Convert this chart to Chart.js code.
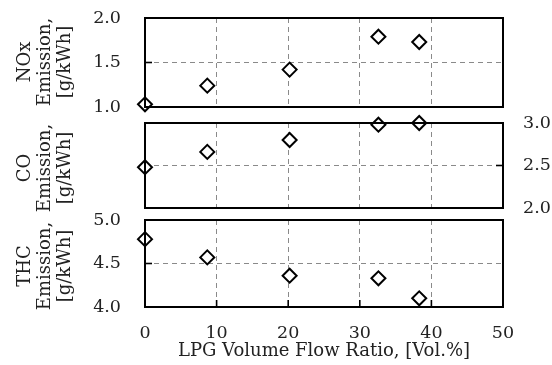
<!DOCTYPE html>
<html lang="en">
<head>
    <meta charset="UTF-8">
    <title>LPG Volume Flow Ratio vs Emissions</title>
    <script src="https://cdn.jsdelivr.net/npm/chart.js"></script>
    <style>
        body { margin: 0; background: #fff; }
        #wrap { position: relative; width: 552px; height: 365px; overflow: hidden; }
        #wrap canvas { position: absolute; left: 0; }
        .ytitle {
            position: absolute;
            width: 120px;
            text-align: center;
            font-family: "DejaVu Serif", serif;
            font-size: 18px;
            line-height: 20px;
            color: #222;
            transform: translate(-50%, -50%) rotate(-90deg);
            white-space: nowrap;
        }
    </style>
</head>
<body>
    <div id="wrap">
        <canvas id="noxChart"></canvas>
        <canvas id="coChart"></canvas>
        <canvas id="thcChart"></canvas>
        <div class="ytitle" style="left:44px; top:62px;">NOx<br>Emission,<br>[g/kWh]</div>
        <div class="ytitle" style="left:44px; top:168px;">CO<br>Emission,<br>[g/kWh]</div>
        <div class="ytitle" style="left:44px; top:266px;">THC<br>Emission,<br>[g/kWh]</div>
    </div>

    <script>
        // data
        const lpgRatio = [0, 8.7, 20.2, 32.6, 38.3];
        const noxValues = [1.03, 1.24, 1.42, 1.79, 1.73];
        const coValues = [2.48, 2.66, 2.80, 2.98, 3.00];
        const thcValues = [4.78, 4.57, 4.36, 4.33, 4.10];

        const xTicks = [0, 10, 20, 30, 40, 50];
        const noxTicks = [1.0, 1.5, 2.0];
        const coTicks = [2.0, 2.5, 3.0];
        const thcTicks = [4.0, 4.5, 5.0];

        const AREA_LEFT = 145;
        const AREA_RIGHT = 503;
        const FONT = { family: '"DejaVu Serif", serif', size: 17.5 };
        const TITLE_FONT = { family: '"DejaVu Serif", serif', size: 18 };
        const TEXT = '#222';

        function toPoints(ys) {
            return lpgRatio.map((x, i) => ({ x: x, y: ys[i] }));
        }

        function setTicks(list) {
            return function(scale) {
                scale.ticks = list.map(v => ({ value: v }));
            };
        }

        function zeroPadding(scale) {
            scale.paddingTop = 0;
            scale.paddingBottom = 0;
            scale.paddingLeft = 0;
            scale.paddingRight = 0;
        }

        // frame around the plot area plus short inward tick marks
        const framePlugin = {
            id: 'frame',
            afterDatasetsDraw(chart) {
                const a = chart.chartArea;
                const ctx = chart.ctx;
                const opts = chart.options.plugins.frame || {};
                ctx.save();
                ctx.strokeStyle = '#000';
                ctx.lineWidth = 1.6;
                if (opts.yTick !== undefined) {
                    const py = chart.scales.y.getPixelForValue(opts.yTick);
                    ctx.beginPath();
                    if (opts.right) {
                        ctx.moveTo(a.right, py); ctx.lineTo(a.right - 7, py);
                    } else {
                        ctx.moveTo(a.left, py); ctx.lineTo(a.left + 7, py);
                    }
                    ctx.stroke();
                }
                if (opts.xTicks) {
                    opts.xTicks.forEach(v => {
                        const px = chart.scales.x.getPixelForValue(v);
                        ctx.beginPath();
                        ctx.moveTo(px, a.bottom); ctx.lineTo(px, a.bottom - 7);
                        ctx.stroke();
                    });
                }
                ctx.lineWidth = 2;
                ctx.strokeRect(a.left, a.top, a.right - a.left, a.bottom - a.top);
                ctx.restore();
            }
        };

        function makeChart(id, top, height, values, yTicks, cfg) {
            const canvas = document.getElementById(id);
            canvas.style.top = top + 'px';
            canvas.style.width = '552px';
            canvas.style.height = height + 'px';
            canvas.width = 552;
            canvas.height = height;

            const yAxis = {
                type: 'linear',
                position: cfg.right ? 'right' : 'left',
                min: yTicks[0],
                max: yTicks[yTicks.length - 1],
                afterBuildTicks: setTicks(yTicks),
                afterFit: function(scale) {
                    scale.width = cfg.right ? 552 - AREA_RIGHT : AREA_LEFT;
                    zeroPadding(scale);
                },
                grid: { color: '#8a8a8a', lineWidth: 1, drawTicks: false },
                border: { display: false, dash: [5, 4] },
                ticks: {
                    color: TEXT,
                    font: FONT,
                    padding: cfg.right ? 20 : 24,
                    callback: v => Number(v).toFixed(1)
                }
            };

            const xAxis = {
                type: 'linear',
                min: 0,
                max: 50,
                afterBuildTicks: setTicks(xTicks),
                afterFit: function(scale) {
                    scale.height = cfg.xHeight;
                    zeroPadding(scale);
                },
                grid: { color: '#8a8a8a', lineWidth: 1, drawTicks: false },
                border: { display: false, dash: [5, 4] },
                ticks: {
                    display: cfg.showX,
                    color: TEXT,
                    font: FONT,
                    padding: 16,
                    maxRotation: 0,
                    callback: v => String(v)
                },
                title: {
                    display: cfg.showX,
                    text: 'LPG Volume Flow Ratio, [Vol.%]',
                    color: TEXT,
                    font: TITLE_FONT,
                    padding: { top: 0, bottom: 3 }
                }
            };

            return new Chart(canvas.getContext('2d'), {
                type: 'scatter',
                data: {
                    datasets: [{
                        data: toPoints(values),
                        pointStyle: 'rectRot',
                        pointRadius: 7,
                        pointHoverRadius: 7,
                        pointBackgroundColor: '#fff',
                        pointBorderColor: '#000',
                        pointBorderWidth: 2,
                        clip: false
                    }]
                },
                options: {
                    responsive: false,
                    animation: false,
                    layout: {
                        autoPadding: false,
                        padding: {
                            left: cfg.right ? AREA_LEFT : 0,
                            right: cfg.right ? 0 : 552 - AREA_RIGHT,
                            top: cfg.padTop,
                            bottom: cfg.padBottom
                        }
                    },
                    plugins: {
                        legend: { display: false },
                        tooltip: { enabled: false },
                        frame: { yTick: yTicks[1], right: cfg.right, xTicks: cfg.inwardX }
                    },
                    scales: { x: xAxis, y: yAxis }
                },
                plugins: [framePlugin]
            });
        }

        makeChart('noxChart', 0, 120, noxValues, noxTicks,
            { right: false, showX: false, xHeight: 0, padTop: 18, padBottom: 13 });
        makeChart('coChart', 110, 110, coValues, coTicks,
            { right: true, showX: false, xHeight: 0, padTop: 13, padBottom: 12 });
        makeChart('thcChart', 200, 165, thcValues, thcTicks,
            { right: false, showX: true, xHeight: 58, padTop: 20, padBottom: 0, inwardX: [10, 20, 30, 40] });
    </script>
</body>
</html>
